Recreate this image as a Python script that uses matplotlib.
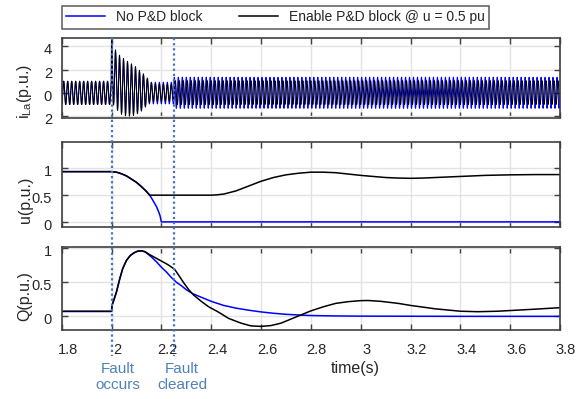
import numpy as np
import matplotlib
matplotlib.use("Agg")
import matplotlib.pyplot as plt
from matplotlib.transforms import ScaledTranslation, blended_transform_factory
from matplotlib.lines import Line2D

plt.rcParams['font.family'] = ['Liberation Sans', 'DejaVu Sans']

# ---------------- data ----------------
t_fault = 2.0
t_clear = 2.25
f_grid = 62.5  # apparent carrier frequency of the phase current
blue_phase_after_clear = np.pi / 2  # blue current is out of phase with black after clearing

# current envelopes (upper / lower)
i_env_t   = [1.8, 1.999, 2.0, 2.02, 2.04, 2.06, 2.08, 2.10, 2.12, 2.14, 2.15, 2.17, 2.2, 2.249, 2.25, 3.8]
black_up  = [1.0, 1.0, 4.5, 3.5, 3.07, 2.78, 2.5, 2.2, 1.77, 1.45, 1.0, 0.78, 0.75, 0.75, 1.05, 1.05]
black_lo  = [-1.0, -1.0, -0.8, -1.42, -1.85, -2.0, -2.0, -1.85, -1.57, -1.13, -0.85, -0.72, -0.72, -0.72, -1.0, -1.0]
blue_up   = [1.0, 1.0, 4.3, 3.3, 2.9, 2.6, 2.35, 2.05, 1.65, 1.35, 0.92, 0.92, 0.92, 0.92, 1.35, 1.35]
blue_lo   = [-1.0, -1.0, -0.7, -1.3, -1.7, -1.85, -1.85, -1.7, -1.45, -1.05, -0.95, -0.95, -0.95, -0.95, -1.33, -1.33]

# voltage u
u_t_black = [1.8, 2.0, 2.02, 2.04, 2.06, 2.08, 2.10, 2.12, 2.14, 2.153, 2.40, 2.42, 2.45, 2.50, 2.55,
             2.60, 2.65, 2.70, 2.75, 2.80, 2.85, 2.90, 2.95, 3.0, 3.05, 3.1, 3.15, 3.2, 3.25, 3.3,
             3.4, 3.5, 3.6, 3.7, 3.8]
u_black   = [0.94, 0.94, 0.93, 0.90, 0.86, 0.80, 0.74, 0.66, 0.57, 0.5, 0.5, 0.505, 0.52, 0.58, 0.67,
             0.76, 0.83, 0.88, 0.91, 0.93, 0.93, 0.92, 0.895, 0.87, 0.85, 0.83, 0.82, 0.815, 0.82, 0.83,
             0.85, 0.87, 0.88, 0.885, 0.885]
u_t_blue  = [1.8, 2.0, 2.02, 2.04, 2.06, 2.08, 2.10, 2.12, 2.14, 2.153, 2.16, 2.17, 2.18, 2.19, 2.195, 2.2, 3.8]
u_blue    = [0.94, 0.94, 0.93, 0.90, 0.86, 0.80, 0.74, 0.66, 0.57, 0.5, 0.45, 0.37, 0.29, 0.18, 0.11, 0.0, 0.0]

# reactive power Q
q_t_black = [1.8, 2.0, 2.002, 2.013, 2.02, 2.033, 2.045, 2.06, 2.075, 2.09, 2.105, 2.12, 2.135, 2.15,
             2.175, 2.2, 2.225, 2.253, 2.27, 2.29, 2.31, 2.33, 2.36, 2.39, 2.43, 2.47, 2.52, 2.56, 2.6,
             2.64, 2.68, 2.72, 2.76, 2.8, 2.85, 2.9, 2.95, 3.0, 3.03, 3.08, 3.15, 3.2, 3.3, 3.4, 3.47,
             3.55, 3.6, 3.7, 3.8]
q_black   = [0.073, 0.073, 0.16, 0.28, 0.36, 0.55, 0.70, 0.82, 0.89, 0.93, 0.955, 0.96, 0.945, 0.91,
             0.86, 0.81, 0.76, 0.69, 0.60, 0.49, 0.39, 0.31, 0.22, 0.14, 0.06, -0.03, -0.10, -0.14, -0.147,
             -0.135, -0.10, -0.04, 0.02, 0.08, 0.14, 0.19, 0.215, 0.23, 0.232, 0.22, 0.19, 0.16, 0.11, 0.075, 0.068,
             0.075, 0.085, 0.105, 0.127]
q_t_blue  = [1.8, 2.0, 2.002, 2.013, 2.02, 2.033, 2.045, 2.06, 2.075, 2.09, 2.105, 2.12, 2.135, 2.15,
             2.16, 2.18, 2.2, 2.22, 2.24, 2.26, 2.28, 2.30, 2.327, 2.36, 2.4, 2.45, 2.5, 2.55, 2.6, 2.65,
             2.7, 2.75, 2.8, 2.9, 3.0, 3.4, 3.8]
q_blue    = [0.073, 0.073, 0.16, 0.28, 0.36, 0.55, 0.70, 0.82, 0.89, 0.93, 0.955, 0.96, 0.945, 0.90,
             0.87, 0.80, 0.72, 0.65, 0.57, 0.50, 0.45, 0.39, 0.33, 0.28, 0.22, 0.16, 0.12, 0.09, 0.065, 0.045,
             0.03, 0.02, 0.012, 0.006, 0.003, 0.0, 0.0]

x_ticks = [1.8, 2.0, 2.2, 2.4, 2.6, 2.8, 3.0, 3.2, 3.4, 3.6, 3.8]
x_ticklabels = ['1.8', '2', '2.2', '2.4', '2.6', '2.8', '3', '3.2', '3.4', '3.6', '3.8']
i_ticks = [-2, 0, 2, 4]
i_ticklabels = ['2', '0', '2', '4']
u_ticks = [0, 0.5, 1]
u_ticklabels = ['0', '0.5', '1']
q_ticks = [0, 0.5, 1]
q_ticklabels = ['0', '0.5', '1']

legend_labels = ['No P&D block', 'Enable P&D block @ u = 0.5 pu']

# ---------------- figure ----------------
W, H = 582, 399
fig = plt.figure(figsize=(W / 100, H / 100), dpi=100)

def px_axes(left, top, right, bottom):
    return fig.add_axes([left / W, 1 - bottom / H, (right - left) / W, (bottom - top) / H])

ax1 = px_axes(61.7, 38.3, 560, 117.5)
ax2 = px_axes(61.7, 141.7, 560, 226.7)
ax3 = px_axes(61.7, 246.7, 560, 330)

BLUE = '#0000FF'
frame_c = '#404040'
text_c = '#262626'
grid_c = '#e3e3e3'

# current waveforms
t = np.linspace(1.8, 3.8, 24001)
phase_k = 2 * np.pi * f_grid * (t - t_fault)
phase_b = phase_k + np.where(t >= t_clear, blue_phase_after_clear, 0.0)
bu = np.interp(t, i_env_t, blue_up); bl = np.interp(t, i_env_t, blue_lo)
ku = np.interp(t, i_env_t, black_up); kl = np.interp(t, i_env_t, black_lo)
i_blue = (bu + bl) / 2 + (bu - bl) / 2 * np.cos(phase_b)
i_black = (ku + kl) / 2 + (ku - kl) / 2 * np.cos(phase_k)

ax1.plot(t, i_blue, color=BLUE, lw=0.75)
ax1.plot(t, i_black, color='black', lw=0.75)
ax2.plot(u_t_blue, u_blue, color=BLUE, lw=1.1)
ax2.plot(u_t_black, u_black, color='black', lw=1.1)
ax3.plot(q_t_blue, q_blue, color=BLUE, lw=1.1)
ax3.plot(q_t_black, q_black, color='black', lw=1.1)

ax1.set_ylim(-2.12, 4.7)
ax2.set_ylim(-0.09, 1.5)
ax3.set_ylim(-0.2, 1.02)
ax1.set_yticks(i_ticks, i_ticklabels)
ax2.set_yticks(u_ticks, u_ticklabels)
ax3.set_yticks(q_ticks, q_ticklabels)

for ax in (ax1, ax2, ax3):
    ax.set_xlim(1.8, 3.8)
    ax.set_xticks(x_ticks)
    ax.grid(True, color=grid_c, lw=1.0)
    ax.set_axisbelow(True)
    ax.tick_params(direction='in', top=True, right=True, length=4, width=1.0,
                   color=frame_c, labelsize=10.5, labelcolor=text_c)
    ax.tick_params(axis='y', pad=7)
    for s in ax.spines.values():
        s.set_color(frame_c)
        s.set_linewidth(1.2)
    for lab in ax.get_yticklabels():
        lab.set_transform(lab.get_transform() + ScaledTranslation(0, -2.5 / 100, fig.dpi_scale_trans))

ax1.tick_params(labelbottom=False)
ax2.tick_params(labelbottom=False)
ax3.set_xticks(x_ticks, x_ticklabels)
ax3.tick_params(axis='x', pad=9)
for lab in ax3.get_xticklabels():
    lab.set_transform(lab.get_transform() + ScaledTranslation(6 / 100, 0, fig.dpi_scale_trans))

# y labels
fig.text(25 / W, 1 - 92 / H, r'i$_{\mathregular{La}}$(p.u.)', rotation=90, ha='center', va='center',
         fontsize=11.5, color=text_c)
fig.text(25 / W, 1 - 200 / H, 'u(p.u.)', rotation=90, ha='center', va='center', fontsize=11.5, color=text_c)
fig.text(25 / W, 1 - 296 / H, 'Q(p.u.)', rotation=90, ha='center', va='center', fontsize=11.5, color=text_c)
fig.text(355 / W, 1 - 368 / H, 'time(s)', ha='center', va='center', fontsize=11.5, color=text_c)

# event lines spanning all panels
ev_c = '#4472C4'
trans = blended_transform_factory(ax3.transData, fig.transFigure)
for tv in (t_fault, t_clear):
    ax3.add_line(Line2D([tv, tv], [1 - 38.3 / H, 1 - 356 / H], transform=trans, color=ev_c,
                        lw=1.6, linestyle=(0, (1, 1.3)), clip_on=False, zorder=10))

fig.text(118 / W, 1 - 377 / H, 'Fault\noccurs', ha='center', va='center', fontsize=11,
         color='#4F81BD', linespacing=1.25)
fig.text(182 / W, 1 - 377 / H, 'Fault\ncleared', ha='center', va='center', fontsize=11,
         color='#4F81BD', linespacing=1.25)

# legend
handles = [Line2D([], [], color=BLUE, lw=1.1), Line2D([], [], color='black', lw=1.1)]
leg = fig.legend(handles, legend_labels, loc='lower left', ncol=2, mode='expand',
                 bbox_to_anchor=(62 / W, 1 - 28.5 / H, (489 - 62) / W, 22 / H),
                 frameon=True, fancybox=False, fontsize=10, handlelength=2.8,
                 borderaxespad=0, borderpad=0.3, handletextpad=0.8, columnspacing=2.0)
leg.get_frame().set_edgecolor(frame_c)
leg.get_frame().set_linewidth(1.2)
for txt in leg.get_texts():
    txt.set_color(text_c)

fig.savefig('out.png', dpi=100)
